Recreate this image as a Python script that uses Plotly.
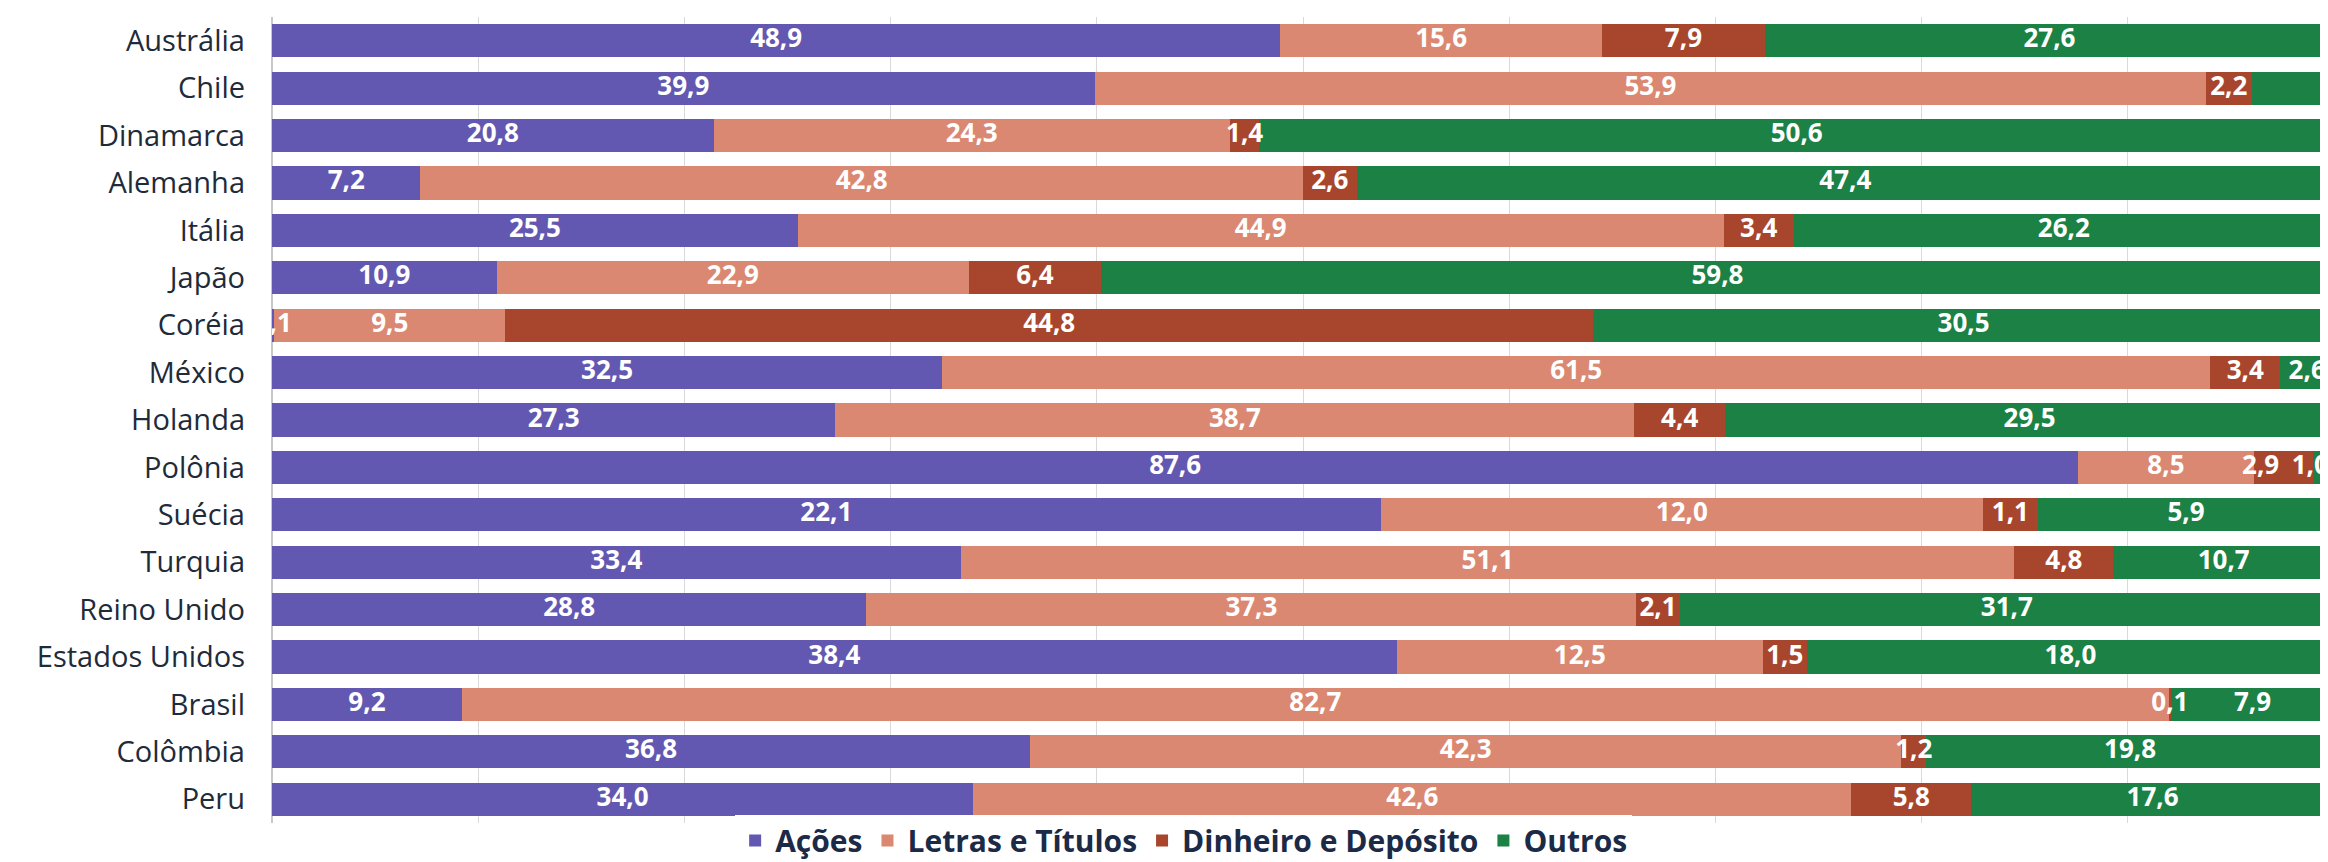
import plotly.graph_objects as go

paises = ["Austrália", "Chile", "Dinamarca", "Alemanha", "Itália", "Japão", "Coréia",
          "México", "Holanda", "Polônia", "Suécia", "Turquia", "Reino Unido",
          "Estados Unidos", "Brasil", "Colômbia", "Peru"]

acoes = [48.9, 39.9, 20.8, 7.2, 25.5, 10.9, 0.1, 32.5, 27.3, 87.6, 22.1, 33.4, 28.8, 38.4, 9.2, 36.8, 34.0]
letras = [15.6, 53.9, 24.3, 42.8, 44.9, 22.9, 9.5, 61.5, 38.7, 8.5, 12.0, 51.1, 37.3, 12.5, 82.7, 42.3, 42.6]
dinheiro = [7.9, 2.2, 1.4, 2.6, 3.4, 6.4, 44.8, 3.4, 4.4, 2.9, 1.1, 4.8, 2.1, 1.5, 0.1, 1.2, 5.8]
outros = [27.6, 4.0, 50.6, 47.4, 26.2, 59.8, 30.5, 2.6, 29.5, 1.0, 5.9, 10.7, 31.7, 18.0, 7.9, 19.8, 17.6]

series = [
    ("Ações", acoes, "#6358b1"),
    ("Letras e Títulos", letras, "#db8872"),
    ("Dinheiro e Depósito", dinheiro, "#a8462d"),
    ("Outros", outros, "#1b8145"),
]

FONTE = "Open Sans"
TAM_ROTULO = 26
ROTULO = dict(color="white", size=TAM_ROTULO, family=FONTE, weight="bold")
LARGURA_PLOT = 2328 - 264 - 2


def rotulo(v):
    return f"{v:.1f}".replace(".", ",")


def largura_pct(txt):
    # largura aproximada do texto em % do eixo
    px = sum(0.33 if c == "," else 0.67 for c in txt) * TAM_ROTULO
    return px / LARGURA_PLOT * 100


fig = go.Figure()
# barras coloridas (100% empilhadas)
for nome, valores, cor in series:
    fig.add_trace(go.Bar(
        y=paises, x=valores, name=nome, orientation="h",
        marker=dict(color=cor, line=dict(width=0)),
        hoverinfo="skip",
    ))

# posição dos rótulos: centro de cada segmento, empurrado p/ esquerda se colidir
n = len(paises)
textos = [[] for _ in series]
centros = [[0.0] * n for _ in series]
for i in range(n):
    total = sum(s[1][i] for s in series)
    ini = 0.0
    for k, (nome, valores, cor) in enumerate(series):
        parte = valores[i] / total * 100
        centros[k][i] = ini + parte / 2
        ini += parte
        vazio = nome == "Outros" and paises[i] == "Chile"
        textos[k].append("" if vazio else rotulo(valores[i]))
    limite = 99.9
    for k in range(len(series) - 1, -1, -1):
        w = largura_pct(textos[k][i])
        if w == 0:
            continue
        if centros[k][i] + w / 2 > limite:
            centros[k][i] = limite - w / 2
        limite = centros[k][i] - w / 2 - 0.3

for k, (nome, valores, cor) in enumerate(series):
    fig.add_trace(go.Scatter(
        y=paises, x=centros[k], mode="text", text=textos[k], textposition="middle center",
        textfont=ROTULO, showlegend=False, hoverinfo="skip",
        cliponaxis=(nome == "Ações"),
    ))

fig.update_layout(
    barmode="stack", barnorm="percent", bargap=0.30,
    width=2328, height=862,
    margin=dict(l=264, r=2, t=9, b=47, autoexpand=False),
    plot_bgcolor="white", paper_bgcolor="white",
    font=dict(family=FONTE, color="#1e2b3a"),
    legend=dict(orientation="h", x=0.505, xanchor="center", xref="container",
                y=0.004, yanchor="bottom", yref="container",
                font=dict(size=30, color="#1b2a47", weight="bold"), itemwidth=30,
                traceorder="normal"),
    xaxis=dict(range=[0, 100], dtick=10, showticklabels=False, showgrid=True,
               gridcolor="#d9d9d9", gridwidth=1, zeroline=True, zerolinecolor="#c8c8c8"),
    yaxis=dict(range=[n - 0.5, -0.5], tickfont=dict(size=29, color="#1e2b3a"),
               ticklabelstandoff=26, showgrid=False),
)

fig.write_html("out.html")
